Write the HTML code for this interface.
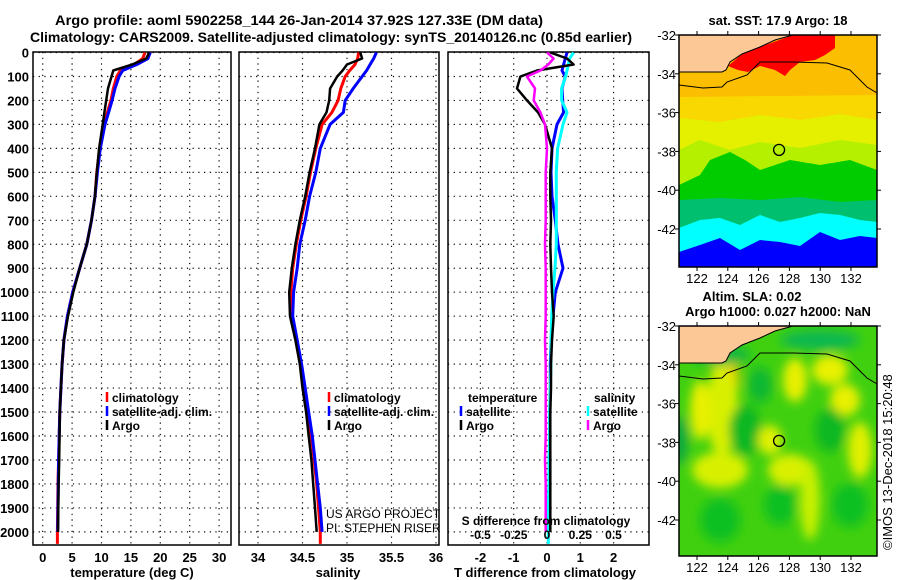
<!DOCTYPE html>
<html><head><meta charset="utf-8"><style>
html,body{margin:0;padding:0;background:#fff;}
svg{display:block;font-family:"Liberation Sans",sans-serif;font-weight:bold;}
</style></head><body>
<svg id="fig" width="900" height="580" viewBox="0 0 900 580" xmlns="http://www.w3.org/2000/svg">
<defs>
<filter id="blr" x="-30%" y="-30%" width="160%" height="160%"><feGaussianBlur stdDeviation="5"/></filter>
<clipPath id="c1"><rect x="679" y="35" width="198" height="232"/></clipPath>
<clipPath id="c2"><rect x="679" y="326" width="198" height="230"/></clipPath>
</defs>
<text x="55" y="25" font-size="14" textLength="488" lengthAdjust="spacingAndGlyphs">Argo profile: aoml 5902258_144 26-Jan-2014 37.92S 127.33E (DM data)</text>
<text x="30" y="42" font-size="14" textLength="602" lengthAdjust="spacingAndGlyphs">Climatology: CARS2009. Satellite-adjusted climatology: synTS_20140126.nc (0.85d earlier)</text>
<g id="plots"></g>
<g id="maps"></g>
<text x="778" y="25" font-size="13" text-anchor="middle">sat. SST: 17.9 Argo: 18</text>
<text x="752" y="301" font-size="13" text-anchor="middle">Altim. SLA: 0.02</text>
<text x="778" y="316" font-size="13" text-anchor="middle">Argo h1000: 0.027 h2000: NaN</text>
<text transform="translate(892,550) rotate(-90)" font-size="13" font-weight="normal">©IMOS 13-Dec-2018 15:20:48</text>
</svg>
<script>
// ---- data ----
const depths = [0,25,50,75,100,150,200,250,300,400,500,600,700,800,900,1000,1100,1200,1300,1400,1500,1600,1700,1800,1900,2000];
const tempArgo = [18.1,17.6,15.2,12.0,11.7,11.1,10.8,10.5,10.2,9.6,9.2,8.9,8.3,7.5,6.3,5.2,4.3,3.6,3.3,3.1,2.9,2.85,2.8,2.7,2.65,2.6];
const tempClim = [17.4,17.0,15.6,13.2,12.6,12.0,11.6,11.0,10.4,9.7,9.2,8.9,8.3,7.5,6.3,5.1,4.2,3.6,3.3,3.1,2.9,2.8,2.7,2.6,2.55,2.5];
const tempSat = [18.3,17.9,16.0,13.6,13.0,12.3,11.8,11.2,10.6,9.8,9.3,8.9,8.3,7.5,6.3,5.1,4.2,3.6,3.3,3.1,2.9,2.8,2.7,2.65,2.6,2.55];
const salArgo = [35.15,35.17,35.0,34.95,34.89,34.81,34.8,34.77,34.69,34.64,34.58,34.53,34.47,34.42,34.38,34.35,34.36,34.42,34.47,34.5,34.54,34.57,34.6,34.62,34.64,34.66];
const salClim = [35.13,35.12,35.09,35.03,34.98,34.93,34.9,34.83,34.72,34.65,34.59,34.54,34.48,34.43,34.39,34.37,34.38,34.43,34.48,34.52,34.56,34.6,34.63,34.66,34.68,34.7];
const salSat = [35.33,35.3,35.26,35.22,35.17,35.07,34.98,34.96,34.81,34.7,34.65,34.58,34.53,34.47,34.44,34.4,34.39,34.44,34.49,34.53,34.57,34.61,34.64,34.67,34.7,34.72];
const tDiffArgo = [0.1,0.6,0.8,-0.3,-0.8,-0.9,-0.6,-0.27,-0.06,0.15,0.1,0.1,0.12,0.1,0.12,0.15,0.2,0.15,0.12,0.12,0.1,0.1,0.1,0.1,0.1,0.1];
const tDiffSat = [0.6,0.55,0.5,0.45,0.55,0.45,0.47,0.5,0.3,0.15,0.12,0.15,0.25,0.33,0.48,0.25,0.18,0.12,0.1,0.1,0.08,0.08,0.07,0.06,0.05,0.05];
const sDiffArgo = [0,0.05,0.01,-0.05,-0.15,-0.09,-0.1,-0.05,-0.015,0,-0.01,-0.01,-0.01,-0.015,-0.01,-0.01,-0.01,-0.015,-0.01,-0.01,-0.01,-0.01,-0.015,-0.01,-0.01,-0.01];
const sDiffSat = [0.2,0.17,0.16,0.15,0.14,0.11,0.11,0.15,0.12,0.08,0.07,0.07,0.07,0.07,0.06,0.045,0.035,0.03,0.03,0.025,0.02,0.02,0.015,0.015,0.01,0.01];
const depthTicks = [0,100,200,300,400,500,600,700,800,900,1000,1100,1200,1300,1400,1500,1600,1700,1800,1900,2000];
const tempTicks = [0,5,10,15,20,25,30];
const salTicks = [34,34.5,35,35.5,36];
const tdTicks = [-2,-1,0,1,2];
const sdTicks = [-0.5,-0.25,0,0.25,0.5];
const lonTicks = [122,124,126,128,130,132];
const latTicks = [-32,-34,-36,-38,-40,-42];

// ---- helpers ----
const NS='http://www.w3.org/2000/svg';
function mk(parent,tag,attrs,txt){const e=document.createElementNS(NS,tag);for(const k in attrs)e.setAttribute(k,attrs[k]);if(txt!==undefined)e.textContent=txt;parent.appendChild(e);return e;}
const yD = d => 52.5 + d*0.2397;
const plotTop=52, plotBot=545;
const plots=document.getElementById('plots');

function panel(name,x0,x1,xs,ticks,label){
  const g=mk(plots,'g',{});
  
  
  depthTicks.forEach(d=>{const l=mk(g,'line',{x1:x0,x2:x1,y1:yD(d),y2:yD(d),stroke:'#000','stroke-width':1.2,'stroke-dasharray':'1.2 4.5'});
    
    });
  ticks.forEach(t=>{const l=mk(g,'line',{x1:xs(t),x2:xs(t),y1:plotTop,y2:plotBot,stroke:'#000','stroke-width':1.2,'stroke-dasharray':'1.2 4.5'});
    
    
    if(label){const tx=mk(g,'text',{x:xs(t),y:562,'font-size':13,'text-anchor':'middle'},String(t));
      
      }
  });
  const r=mk(g,'rect',{x:x0,y:plotTop,width:x1-x0,height:plotBot-plotTop,fill:'none',stroke:'#000','stroke-width':1.5});
  
  
  return g;
}
function series(g,name,vals,xs,color,w,extra){
  const pts=vals.map((v,i)=>xs(v).toFixed(1)+','+yD(depths[i]).toFixed(1));
  if(extra)pts.push(xs(vals[vals.length-1]).toFixed(1)+','+yD(extra).toFixed(1));
  const p=mk(g,'polyline',{points:pts.join(' '),fill:'none',stroke:color,'stroke-width':w,'stroke-linejoin':'round'});
  
  
}
function legend(g,x,y,color,txt,name){
  const l=mk(g,'line',{x1:x,x2:x,y1:y-10,y2:y,stroke:color,'stroke-width':2.5});
  
  
  const t=mk(g,'text',{x:x+5,y:y,'font-size':12},txt);
  
  
}

// depth labels
depthTicks.forEach(d=>{const t=mk(plots,'text',{x:29,y:yD(d)+5,'font-size':13,'text-anchor':'end'},String(d));
  
  });

// temperature
const xT=t=>42.7+t*5.88;
const g1=panel('temperature-panel',33,231,xT,tempTicks,true);
series(g1,'temp-climatology-line',tempClim,xT,'#f00',3,2050);
series(g1,'temp-satellite-line',tempSat,xT,'#00f',3);
series(g1,'temp-argo-line',tempArgo,xT,'#000',2.5);
legend(g1,107,402,'#f00','climatology','legend-climatology');
legend(g1,107,416,'#00f','satellite-adj. clim.','legend-satellite');
legend(g1,107,430,'#000','Argo','legend-argo');
let tt=mk(plots,'text',{x:132,y:577,'font-size':13,'text-anchor':'middle'},'temperature (deg C)');



// salinity
const xS=s=>258+(s-34)*89;
const g2=panel('salinity-panel',239,439,xS,salTicks,true);
series(g2,'sal-climatology-line',salClim,xS,'#f00',3,2050);
series(g2,'sal-satellite-line',salSat,xS,'#00f',3);
series(g2,'sal-argo-line',salArgo,xS,'#000',2.5);
legend(g2,329,402,'#f00','climatology','legend-climatology');
legend(g2,329,416,'#00f','satellite-adj. clim.','legend-satellite');
legend(g2,329,430,'#000','Argo','legend-argo');
let ts=mk(plots,'text',{x:338,y:577,'font-size':13,'text-anchor':'middle'},'salinity');


let c1=mk(g2,'text',{x:326,y:518,'font-size':12,'font-weight':'normal'},'US ARGO PROJECT');


let c2=mk(g2,'text',{x:326,y:532,'font-size':12,'font-weight':'normal'},'PI: STEPHEN RISER');



// differences
const xTD=t=>547+t*33.3;
const xSD=s=>547+s*133;
const g3=panel('difference-panel',448,649,xTD,tdTicks,true);
series(g3,'tdiff-satellite-line',tDiffSat,xTD,'#00f',3);
series(g3,'sdiff-satellite-line',sDiffSat,xSD,'#0ff',3,2050);
series(g3,'tdiff-argo-line',tDiffArgo,xTD,'#000',2.5);
series(g3,'sdiff-argo-line',sDiffArgo,xSD,'#f0f',2.5);
let lt=mk(g3,'text',{x:468,y:402,'font-size':12},'temperature');


legend(g3,461,416,'#00f','satellite','legend-t-satellite');
legend(g3,461,430,'#000','Argo','legend-t-argo');
let ls=mk(g3,'text',{x:594,y:402,'font-size':12},'salinity');


legend(g3,588,416,'#0ff','satellite','legend-s-satellite');
legend(g3,588,430,'#f0f','Argo','legend-s-argo');
let sdt=mk(g3,'text',{x:546,y:525,'font-size':12,'text-anchor':'middle'},'S difference from climatology');


sdTicks.forEach(s=>{const t=mk(g3,'text',{x:xSD(s),y:539,'font-size':12,'text-anchor':'middle'},String(s));
  
  });
let tdt=mk(plots,'text',{x:545,y:577,'font-size':13,'text-anchor':'middle'},'T difference from climatology');



// ---- maps ----
const maps=document.getElementById('maps');
const lonX=l=>697+(l-122)*15.4;
function mapFrame(name,y0,h,latY,clip,drawFn){
  const g=mk(maps,'g',{});
  
  
  const inner=mk(g,'g',{'clip-path':'url(#'+clip+')'});
  drawFn(inner,y0);
  const off=y0-35;
  const land=mk(inner,'polygon',{fill:'#fcc896',points:[[679,35],[793,35],[775,40],[760,47],[742,54],[730,62],[726,70],[722,72],[700,72],[679,72]].map(p=>p[0]+','+(p[1]+off)).join(' ')});
  
  
  const cont=mk(inner,'polyline',{fill:'none',stroke:'#000','stroke-width':1,points:[[679,85],[703,88],[722,87],[727,82],[747,75],[760,62],[793,62],[827,63],[850,70],[867,87],[877,93]].map(p=>p[0]+','+(p[1]+off)).join(' ')});
  
  
  const coast=mk(inner,'polyline',{fill:'none',stroke:'#000','stroke-width':1,points:[[679,72],[722,72],[726,70],[730,62],[742,54],[760,47],[775,40],[793,35]].map(p=>p[0]+','+(p[1]+off)).join(' ')});
  
  
  const c=mk(g,'circle',{cx:lonX(127.33),cy:latY(-37.92),r:5.5,fill:'none',stroke:'#000','stroke-width':1.3});
  
  
  const fr=mk(g,'rect',{x:679,y:y0,width:198,height:h,fill:'none',stroke:'#000','stroke-width':1.5});
  
  
  lonTicks.forEach(l=>{mk(g,'line',{x1:lonX(l),x2:lonX(l),y1:y0+h,y2:y0+h+4,stroke:'#000'});mk(g,'line',{x1:lonX(l),x2:lonX(l),y1:y0,y2:y0-4,stroke:'#000'});
    const t=mk(g,'text',{x:lonX(l),y:y0+h+16,'font-size':13,'text-anchor':'middle','font-weight':'normal'},String(l));
    
    });
  latTicks.forEach(la=>{mk(g,'line',{x1:675,x2:679,y1:latY(la),y2:latY(la),stroke:'#000'});mk(g,'line',{x1:877,x2:881,y1:latY(la),y2:latY(la),stroke:'#000'});
    const t=mk(g,'text',{x:676,y:latY(la)+5,'font-size':13,'text-anchor':'end','font-weight':'normal'},String(la));
    
    });
}
function band(g,color,pts,name){const p=mk(g,'polygon',{fill:color,points:pts});}
mapFrame('sst-map',35,232,la=>35+(-32-la)*19.4,'c1',(g,y0)=>{
  band(g,'#fcbe00','679,35 877,35 877,267 679,267','sst-orange');
  band(g,'#f00','728,66 742,54 760,47 793,35 835,35 835,48 825,55 815,60 800,62 790,70 785,76 775,70 760,66 748,72 738,70','sst-red');
  band(g,'#f8d800','679,97 877,95 877,267 679,267','sst-yellow-orange');
  band(g,'#e4f000','679,118 720,122 760,115 800,120 840,114 877,120 877,267 679,267','sst-yellow');
  band(g,'#b4f000','679,150 700,140 730,150 760,142 800,148 840,140 877,145 877,267 679,267','sst-lime');
  band(g,'#00cc00','679,185 700,175 710,160 730,152 745,160 760,170 790,160 820,165 850,160 877,170 877,267 679,267','sst-green');
  band(g,'#00c070','679,200 720,198 760,200 800,197 840,202 877,200 877,267 679,267','sst-teal');
  band(g,'#00ffff','679,228 700,220 720,218 740,225 760,215 780,222 800,218 820,213 840,215 860,220 877,222 877,267 679,267','sst-cyan');
  band(g,'#0000ff','679,252 700,245 720,238 740,250 760,240 780,242 800,246 820,232 840,240 860,236 877,238 877,267 679,267','sst-blue');
});
const SLAblobs = [[725,380,14,28,'#f0c800'],[722,410,16,45,'#d8f000'],[700,410,10,30,'#e8f000'],[760,385,12,18,'#10b830'],[795,380,12,22,'#e8f000'],[830,370,18,15,'#e8f000'],[845,400,15,16,'#e8f000'],[790,470,22,16,'#d8f000'],[720,470,28,18,'#d8f000'],[860,450,12,28,'#e0f000'],[745,430,16,26,'#10b820'],[830,430,15,22,'#10b820'],[780,505,16,20,'#10c020'],[720,520,20,22,'#10c020'],[850,505,18,22,'#10c020'],[770,440,12,15,'#e0f000'],[680,440,8,25,'#10a840'],[720,355,30,10,'#10b840'],[820,340,40,10,'#10b850'],[810,500,10,40,'#c8f000']];
mapFrame('sla-map',326,230,la=>326+(-32-la)*19.4,'c2',(g,y0)=>{
  band(g,'#40d010','679,326 877,326 877,556 679,556','sla-background');
  const bg=mk(g,'g',{filter:'url(#blr)'});
  SLAblobs.forEach(b=>{const e=mk(bg,'ellipse',{cx:b[0],cy:b[1],rx:b[2],ry:b[3],fill:b[4]});
    
    });
});
</script>
</body></html>
